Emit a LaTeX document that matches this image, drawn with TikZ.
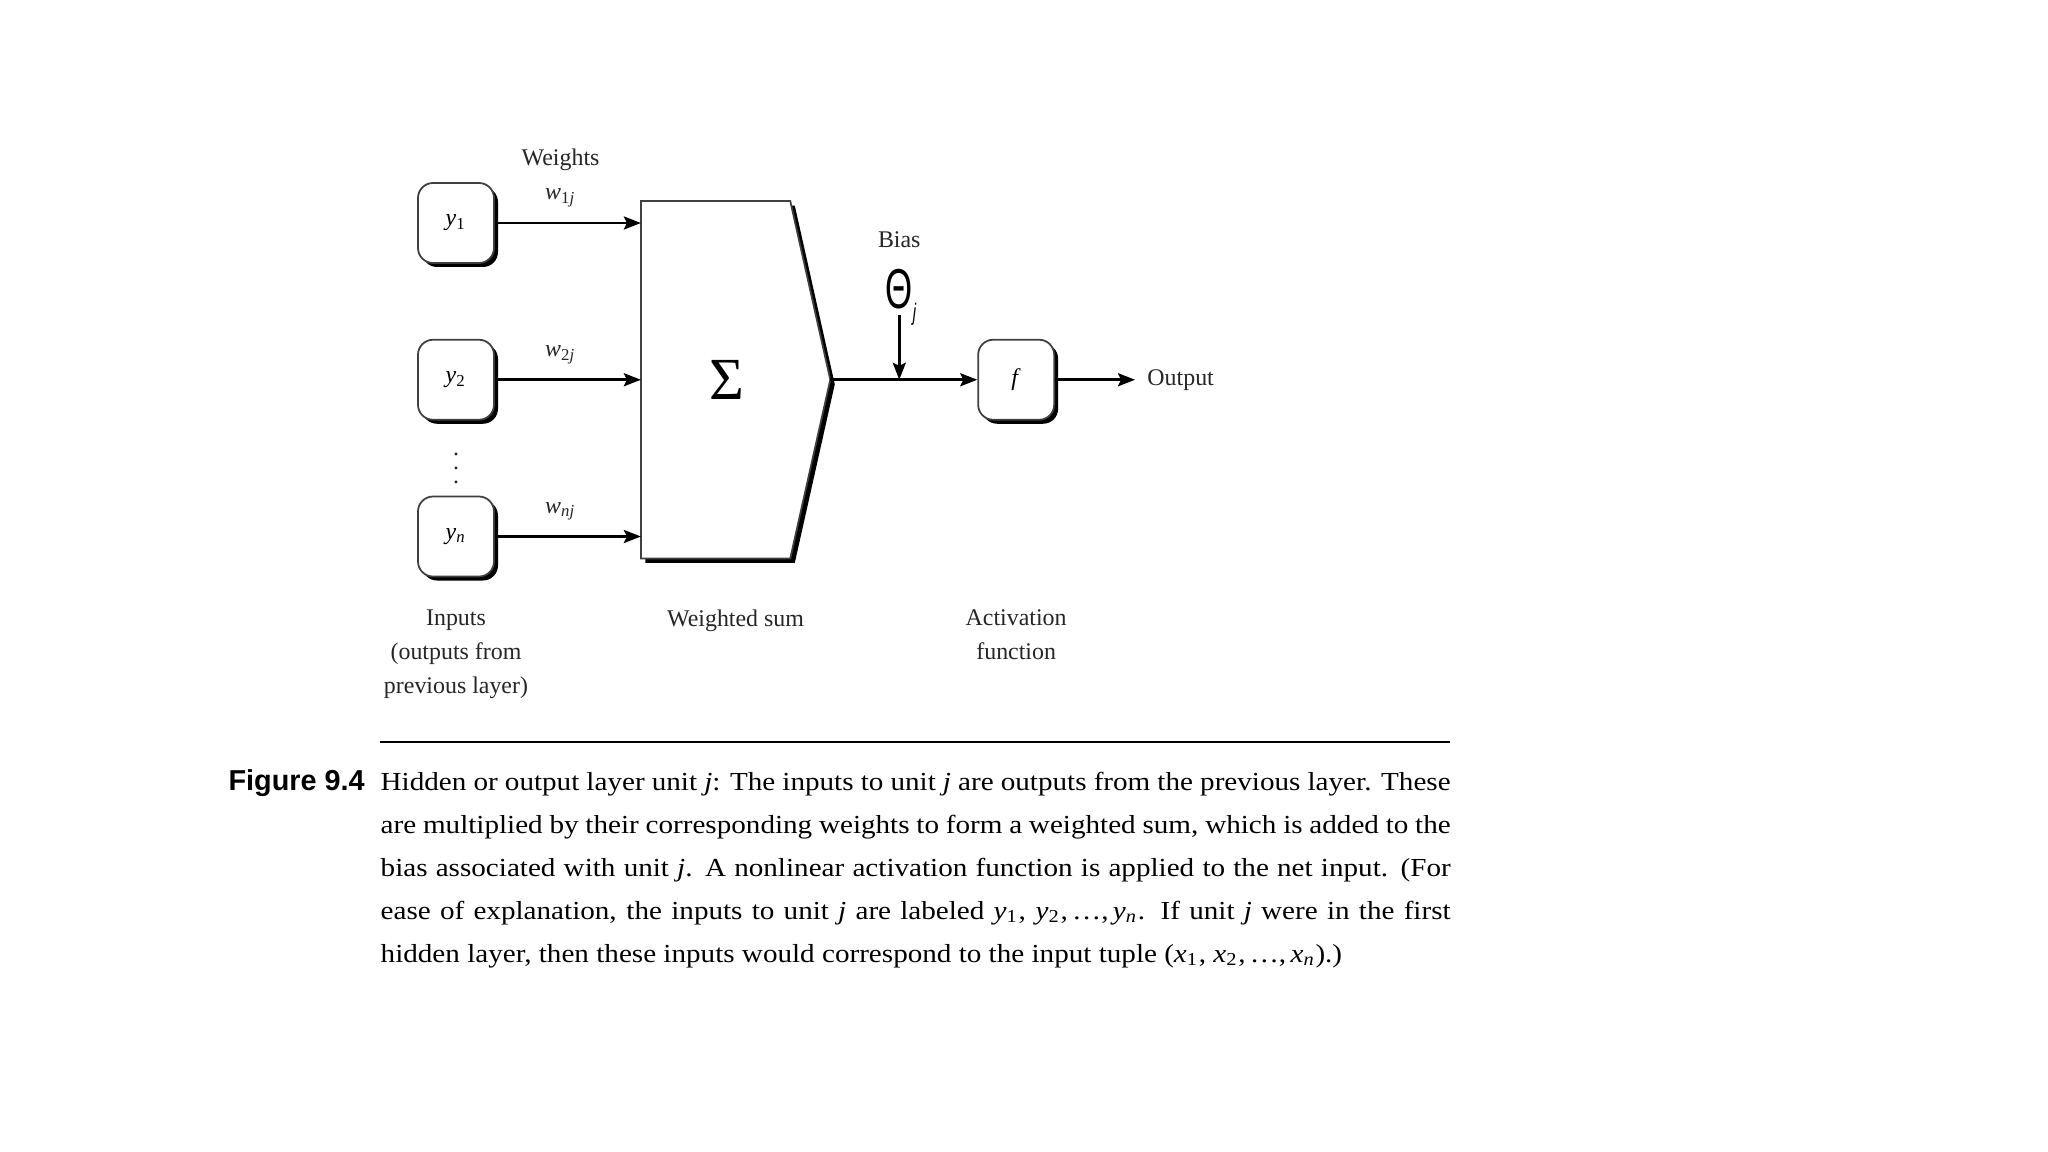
\documentclass[tikz,border=0pt]{standalone}
\usepackage{fontspec}
\setmainfont{Liberation Serif}
\newfontfamily\capfont[FakeStretch=1.12]{Liberation Serif}
\newfontfamily\figfont{Liberation Sans}
\newfontfamily\thetafont[FakeStretch=0.62]{Liberation Sans}
\usetikzlibrary{arrows.meta, positioning, calc, shadows}
\newcommand\diafont{\fontsize{6.8}{9.7}\selectfont}
\newcommand\bigsym{\fontsize{17}{17}\selectfont}

\begin{document}
\begin{tikzpicture}[
  unit/.style={rectangle, rounded corners=0.15cm, draw=black!75, line width=0.5pt,
    fill=white, minimum width=0.76cm, minimum height=0.80cm, inner sep=0pt,
    font=\diafont,
    drop shadow={shadow xshift=0.04cm, shadow yshift=-0.04cm, fill=black, opacity=1}},
  sumbox/.style={rectangle, minimum width=1.48cm, minimum height=3.56cm, inner sep=0pt},
  sumedge/.style={draw=black!75, line width=0.5pt, fill=white, line join=miter,
    drop shadow={shadow xshift=0.045cm, shadow yshift=-0.045cm, fill=black, opacity=1}},
  arr/.style={-{Stealth[length=0.17cm, width=0.13cm, inset=0.03cm]}, line width=0.026cm},
  lbl/.style={font=\diafont, text=black!85},
  wlbl/.style={lbl, above=0.03cm},
  sym/.style={font=\bigsym, inner sep=0.05cm},
  captext/.style={text width=10.7cm, align=justify, inner sep=0pt,
    font=\capfont\fontsize{7.4}{12.2}\selectfont},
  node distance=0.75cm
]
\fill[white] (0,0) rectangle (20.48,-11.52);
\useasboundingbox (0,0) rectangle (20.48,-11.52);

% inputs
\node[unit] (y1) at (4.56,-2.23) {\textit{y}\textsubscript{1}};
\node[unit, below=of y1] (y2) {\textit{y}\textsubscript{2}};
\node[unit, below=of y2] (yn) {\textit{y}\textsubscript{\textit{n}}};
\node[lbl, inner sep=0pt] (dots) at ($(y2)!0.5!(yn)$) {\vdots};

% weighted sum
\node[sumbox, right=1.46cm of y2] (sum) {};
\coordinate (tip) at ([xshift=0.40cm]sum.east);
\coordinate (summid) at ($(sum.west)!0.5!(tip)$);
\draw[sumedge] (sum.north west) -- (sum.north east) -- (tip)
  -- (sum.south east) -- (sum.south west) -- cycle;
\node[sym] (sigma) at ([xshift=0.11cm]sum.center) {Σ};

\foreach \s/\sub in {y1/1, y2/2, yn/{\textit{n}}}
  \draw[arr] (\s.east) -- (\s.east -| sum.west)
    node[wlbl, pos=0.45] (w-\s) {\textit{w}\textsubscript{\sub\textit{j}}};
\node[lbl, above=-0.07cm of w-y1] (weights) {Weights};

% bias and activation
\node[unit, right=1.47cm of tip] (f) {\textit{f}};
\coordinate (j) at ([xshift=0.69cm]tip);
\node[sym, above=0.65cm of j, font=\thetafont\fontsize{16}{16}\selectfont] (theta)
  {Θ\rlap{\smash{\raisebox{-0.12cm}{\diafont\textit{j}}}}};
\node[lbl, above=0.03cm of theta] (bias) {Bias};
\node[lbl, right=0.80cm of f] (out) {Output};

\draw[arr] (tip) -- (f.west);
\draw[arr] (theta) -- (j);
\draw[arr] (f) -- (out);

% captions under the parts
\node[lbl, align=center, below=0.20cm of yn] (inputs)
  {Inputs\\(outputs from\\previous layer)};
\node[lbl, anchor=north] (wsum) at (summid |- inputs.north) {Weighted sum};
\node[lbl, align=center, anchor=north] (act) at (f |- inputs.north) {Activation\\function};

% figure caption
\draw[line width=0.025cm] (3.80,-7.42) -- (14.50,-7.42);
\node[captext, anchor=north west] (cap) at (3.80,-7.60)
  {\strut\llap{\figfont\bfseries\fontsize{8.2}{12.2}\selectfont Figure 9.4\hspace{0.16cm}}Hidden
  or output layer unit \textit{j}: The inputs to unit \textit{j} are outputs from the
  previous layer. These\linebreak are multiplied by their corresponding weights to form a
  weighted sum, which is added to the\linebreak bias associated with unit \textit{j}. A
  nonlinear activation function is applied to the net input. (For\linebreak ease of
  explanation, the inputs to unit \textit{j} are labeled \textit{y}\textsubscript{1},
  \textit{y}\textsubscript{2},\,\dots,\,\textit{y}\textsubscript{\textit{n}}. If unit
  \textit{j} were in the first\linebreak hidden layer, then these inputs would correspond
  to the input tuple (\textit{x}\textsubscript{1}, \textit{x}\textsubscript{2},\,\dots,\,\textit{x}\textsubscript{\textit{n}}).)};
\end{tikzpicture}
\end{document}
